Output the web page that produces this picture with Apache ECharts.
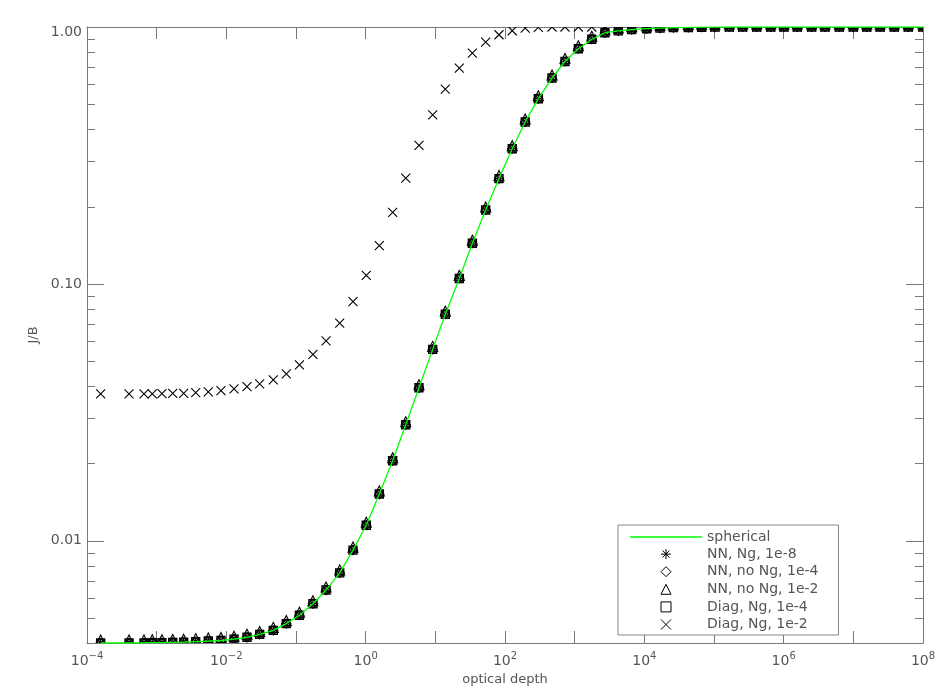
<!DOCTYPE html>
<html><head><meta charset="utf-8">
<script src="https://cdn.jsdelivr.net/npm/echarts@6/dist/echarts.min.js"></script>
<style>html,body{margin:0;padding:0;background:#fff}#chart{width:950px;height:700px}</style>
</head><body><div id="chart"></div>
<script>
// ---------- data ----------
const xMin = 1e-4, xMax = 1e8;
const yMin = 0.004, yMax = 1;

const tau = [1.57e-4, 4.01e-4, 6.58e-4, 8.65e-4, 1.19e-3, 1.70e-3, 2.44e-3, 3.63e-3, 5.51e-3, 8.38e-3,
  0.0129, 0.0198, 0.0301, 0.0472, 0.0726, 0.112, 0.175, 0.270, 0.424, 0.658,
  1.02, 1.57, 2.44, 3.76, 5.83, 9.16, 13.9, 22.1, 34.0, 52.8,
  82.0, 127, 195, 301, 473, 726, 1130, 1760, 2720, 4230,
  6590, 10800, 16800, 26100, 42800, 66500, 103000, 166000, 258000, 410000,
  652000, 1010000, 1570000, 2520000, 3920000, 6300000, 1.0e7, 1.56e7, 2.42e7, 3.87e7,
  6.15e7, 1.0e8];

// J/B of the spherical reference solution and the converged runs
const jbSpherical = [0.00400, 0.00400, 0.00400, 0.00401, 0.00401, 0.00402, 0.00403, 0.00405, 0.00407, 0.00409,
  0.00414, 0.00421, 0.00432, 0.00448, 0.00476, 0.00513, 0.00569, 0.00643, 0.00750, 0.00920,
  0.0115, 0.0152, 0.0205, 0.0283, 0.0394, 0.0556, 0.0762, 0.105, 0.144, 0.194,
  0.257, 0.336, 0.427, 0.526, 0.633, 0.734, 0.823, 0.896, 0.950, 0.966,
  0.977, 0.985, 0.990, 0.994, 0.996, 0.998, 0.999, 1, 1, 1,
  1, 1, 1, 1, 1, 1, 1, 1, 1, 1,
  1, 1];
const jbNNNg8 = jbSpherical.slice();
const jbNNnoNg4 = jbSpherical.slice();
const jbNNnoNg2 = jbSpherical.slice();
const jbDiagNg4 = jbSpherical.slice();
// Diag, Ng, 1e-2 (unconverged)
const jbDiagNg2 = [0.0373, 0.0373, 0.0373, 0.0373, 0.0374, 0.0375, 0.0375, 0.0377, 0.0380, 0.0384,
  0.0390, 0.0398, 0.0408, 0.0423, 0.0446, 0.0484, 0.0532, 0.0600, 0.0703, 0.0853,
  0.108, 0.141, 0.190, 0.258, 0.346, 0.455, 0.573, 0.692, 0.792, 0.874,
  0.933, 0.967, 0.990, 0.997, 1, 1, 1, 1, 1, 1,
  1, 1, 1, 1, 1, 1, 1, 1, 1, 1,
  1, 1, 1, 1, 1, 1, 1, 1, 1, 1,
  1, 1];

const yMinorTicks = [0.005, 0.006, 0.007, 0.008, 0.009,
  0.02, 0.03, 0.04, 0.05, 0.06, 0.07, 0.08, 0.09,
  0.2, 0.3, 0.4, 0.5, 0.6, 0.7, 0.8, 0.9];

const names = ['spherical', 'NN, Ng, 1e-8', 'NN, no Ng, 1e-4', 'NN, no Ng, 1e-2', 'Diag, Ng, 1e-4', 'Diag, Ng, 1e-2'];

// ---------- styling ----------
const FONT = 'DejaVu Sans';
const TXT = '#555555';
const AX = '#777777';
const GREEN = '#00ff00';
const P = {
  line: 'M0 0L63 0L63 1.2L0 1.2Z',
  star: 'M5 0L5 10M0 5L10 5M1.5 1.5L8.5 8.5M8.5 1.5L1.5 8.5',
  diamond: 'M5 0L10 5L5 10L0 5Z',
  triangle: 'M5 0L10 10L0 10Z',
  square: 'M0 0L10 0L10 10L0 10Z',
  cross: 'M0 0L10 10M10 0L0 10'
};

function markerSeries(name, vals, path, size, dy, lw) {
  return {
    type: 'custom', name: name, clip: true, z: 3,
    data: tau.map((t, i) => [t, vals[i]]),
    itemStyle: { color: 'none', borderColor: '#000', borderWidth: 1 },
    renderItem: function (params, api) {
      const p = api.coord([api.value(0), api.value(1)]);
      return {
        type: 'path',
        shape: { pathData: path, x: p[0] - size / 2, y: p[1] - size / 2 + dy, width: size, height: size, layout: 'cover' },
        style: { fill: 'none', stroke: '#000', lineWidth: lw }
      };
    }
  };
}

function xFmt(v) {
  const e = Math.round(Math.log10(v));
  if (Math.abs(Math.log10(v) - e) > 1e-6 || e % 2 !== 0) return '';
  return '{b|10}{e|' + (e < 0 ? '\u2212' + (-e) : e) + '}';
}
function yFmt(v) {
  const l = Math.log10(v);
  if (Math.abs(l - Math.round(l)) > 1e-6) return '';
  if (Math.round(l) === 0) return '{t|' + v.toFixed(2) + '}';
  return v.toFixed(2);
}

const legendMarker = { color: 'none', borderColor: '#000', borderWidth: 1 };

const xCommon = {
  type: 'log', logBase: 10, min: xMin, max: xMax, interval: 1, gridIndex: 0,
  axisLine: { show: true, onZero: false, lineStyle: { color: AX, width: 1 } },
  axisTick: { show: true, inside: true, length: 12, lineStyle: { color: AX, width: 1 } },
  splitLine: { show: false }, minorTick: { show: false }, minorSplitLine: { show: false }
};
const yCommon = {
  type: 'log', logBase: 10, min: yMin, max: yMax, gridIndex: 0,
  axisLine: { show: true, onZero: false, lineStyle: { color: AX, width: 1 } },
  axisTick: { show: true, inside: true, length: 17, lineStyle: { color: AX, width: 1 } },
  splitLine: { show: false }, minorTick: { show: false }, minorSplitLine: { show: false }
};

const option = {
  animation: false,
  backgroundColor: '#fff',
  grid: { left: 87, right: 27, top: 27, bottom: 57, containLabel: false },
  xAxis: [
    Object.assign({}, xCommon, {
      position: 'bottom',
      name: 'optical depth', nameLocation: 'middle', nameGap: 30,
      nameTextStyle: { color: TXT, fontFamily: FONT, fontSize: 13 },
      axisLabel: {
        show: true, margin: 8, formatter: xFmt, color: TXT, fontFamily: FONT,
        rich: {
          b: { fontSize: 14, fontFamily: FONT, color: TXT, verticalAlign: 'middle' },
          e: { fontSize: 10, fontFamily: FONT, color: TXT, verticalAlign: 'middle', padding: [0, 0, 11, 0] }
        }
      }
    }),
    Object.assign({}, xCommon, { position: 'top', axisLabel: { show: false } })
  ],
  yAxis: [
    Object.assign({}, yCommon, {
      position: 'left',
      name: 'J/B', nameLocation: 'middle', nameGap: 47, nameRotate: 90,
      nameTextStyle: { color: TXT, fontFamily: FONT, fontSize: 13 },
      axisLabel: {
        show: true, margin: 5, formatter: yFmt, color: TXT, fontFamily: FONT, fontSize: 14,
        rich: { t: { fontSize: 14, fontFamily: FONT, color: TXT, padding: [11, 0, 0, 0] } }
      }
    }),
    Object.assign({}, yCommon, { position: 'right', axisLabel: { show: false } })
  ],
  legend: {
    orient: 'vertical', left: 618, top: 525,
    padding: [5, 20, 3, 12], itemGap: 2.6, itemWidth: 72, itemHeight: 10,
    borderColor: '#888', borderWidth: 1, backgroundColor: '#fff',
    selectedMode: false,
    textStyle: { color: TXT, fontFamily: FONT, fontSize: 14, lineHeight: 14 },
    data: [
      { name: names[0], icon: 'path://' + P.line, itemStyle: { color: GREEN, borderWidth: 0 } },
      { name: names[1], icon: 'path://' + P.star, itemStyle: legendMarker },
      { name: names[2], icon: 'path://' + P.diamond, itemStyle: legendMarker },
      { name: names[3], icon: 'path://' + P.triangle, itemStyle: legendMarker },
      { name: names[4], icon: 'path://' + P.square, itemStyle: legendMarker },
      { name: names[5], icon: 'path://' + P.cross, itemStyle: legendMarker }
    ]
  },
  series: [
    {
      type: 'custom', name: 'yMinor', silent: true, z: 1,
      data: yMinorTicks.map(v => [1, v]),
      renderItem: function (params, api) {
        const cs = params.coordSys;
        const y = Math.round(api.coord([1, api.value(1)])[1]) + 0.5;
        return {
          type: 'group', children: [
            { type: 'line', shape: { x1: cs.x, y1: y, x2: cs.x + 8, y2: y }, style: { stroke: AX, lineWidth: 1 } },
            { type: 'line', shape: { x1: cs.x + cs.width - 8, y1: y, x2: cs.x + cs.width, y2: y }, style: { stroke: AX, lineWidth: 1 } }
          ]
        };
      }
    },
    markerSeries(names[1], jbNNNg8, P.star, 9, 0, 1.2),
    markerSeries(names[2], jbNNnoNg4, P.diamond, 9, 0, 1.2),
    markerSeries(names[3], jbNNnoNg2, P.triangle, 10, -3, 1.1),
    markerSeries(names[4], jbDiagNg4, P.square, 8, 0, 1.4),
    markerSeries(names[5], jbDiagNg2, P.cross, 9, 0, 1.1),
    {
      type: 'line', name: names[0], z: 5, symbol: 'none', showSymbol: false, clip: true,
      data: tau.map((t, i) => [t, jbSpherical[i]]),
      lineStyle: { color: GREEN, width: 1.3 },
      itemStyle: { color: GREEN }
    }
  ]
};

const chart = echarts.init(document.getElementById('chart'), null, { renderer: 'canvas' });
chart.setOption(option);
</script></body></html>
